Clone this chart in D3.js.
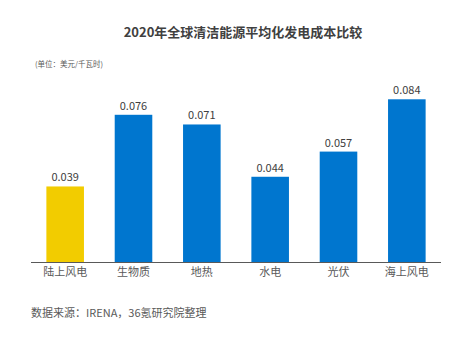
<!DOCTYPE html>
<html>
<head>
<meta charset="utf-8">
<script src="https://cdn.jsdelivr.net/npm/d3@7"></script>
<style>
  body { margin: 0; background: #fff; }
  text { font-family: "Noto Sans CJK SC", "Noto Sans", sans-serif; }
</style>
</head>
<body>
<div id="chart"></div>
<script>
  // data
  const categories = ["陆上风电", "生物质", "地热", "水电", "光伏", "海上风电"];
  const costs = [0.039, 0.076, 0.071, 0.044, 0.057, 0.084];
  const highlight = "陆上风电";

  const width = 476, height = 352;
  const margin = { top: 68, right: 35, bottom: 90, left: 31 };

  const svg = d3.select("#chart").append("svg")
    .attr("width", width)
    .attr("height", height);

  const x = d3.scaleBand()
    .domain(categories)
    .range([margin.left, width - margin.right])
    .paddingInner(0.45)
    .paddingOuter(0.225);

  const y = d3.scaleLinear()
    .domain([0, 0.1])
    .range([height - margin.bottom, height - margin.bottom - 193.7]);

  // title + unit
  svg.append("text")
    .attr("x", 243).attr("y", 37)
    .attr("text-anchor", "middle")
    .attr("font-size", 13)
    .attr("font-weight", "bold")
    .attr("fill", "#404040")
    .text("2020年全球清洁能源平均化发电成本比较");

  svg.append("text")
    .attr("x", 35).attr("y", 67)
    .attr("font-size", 7.5)
    .attr("fill", "#595959")
    .text("(单位：美元/千瓦时)");

  const data = categories.map((c, i) => ({ cat: c, v: costs[i] }));

  svg.append("g").selectAll("rect")
    .data(data)
    .join("rect")
    .attr("x", d => x(d.cat))
    .attr("y", d => y(d.v))
    .attr("width", x.bandwidth())
    .attr("height", d => y(0) - y(d.v))
    .attr("fill", d => d.cat === highlight ? "#F2CC00" : "#0076CF");

  svg.append("g").selectAll("text")
    .data(data)
    .join("text")
    .attr("x", d => x(d.cat) + x.bandwidth() / 2)
    .attr("y", d => y(d.v) - 5)
    .attr("text-anchor", "middle")
    .attr("font-size", 11)
    .attr("fill", "#404040")
    .text(d => d.v.toFixed(3));

  // x axis
  const xAxis = svg.append("g")
    .attr("transform", `translate(0, ${y(0)})`)
    .call(d3.axisBottom(x).tickSize(0).tickPadding(6));
  xAxis.select(".domain").attr("stroke", "#595959").attr("stroke-width", 1)
    .attr("d", `M${margin.left},0.5H${width - margin.right}`);
  xAxis.selectAll("text")
    .attr("font-size", 11)
    .attr("fill", "#595959")
    .style("font-family", "'Noto Sans CJK SC', sans-serif");

  svg.append("text")
    .attr("x", 31).attr("y", 317)
    .attr("font-size", 11)
    .attr("fill", "#595959")
    .text("数据来源：IRENA，36氪研究院整理");
</script>
</body>
</html>
